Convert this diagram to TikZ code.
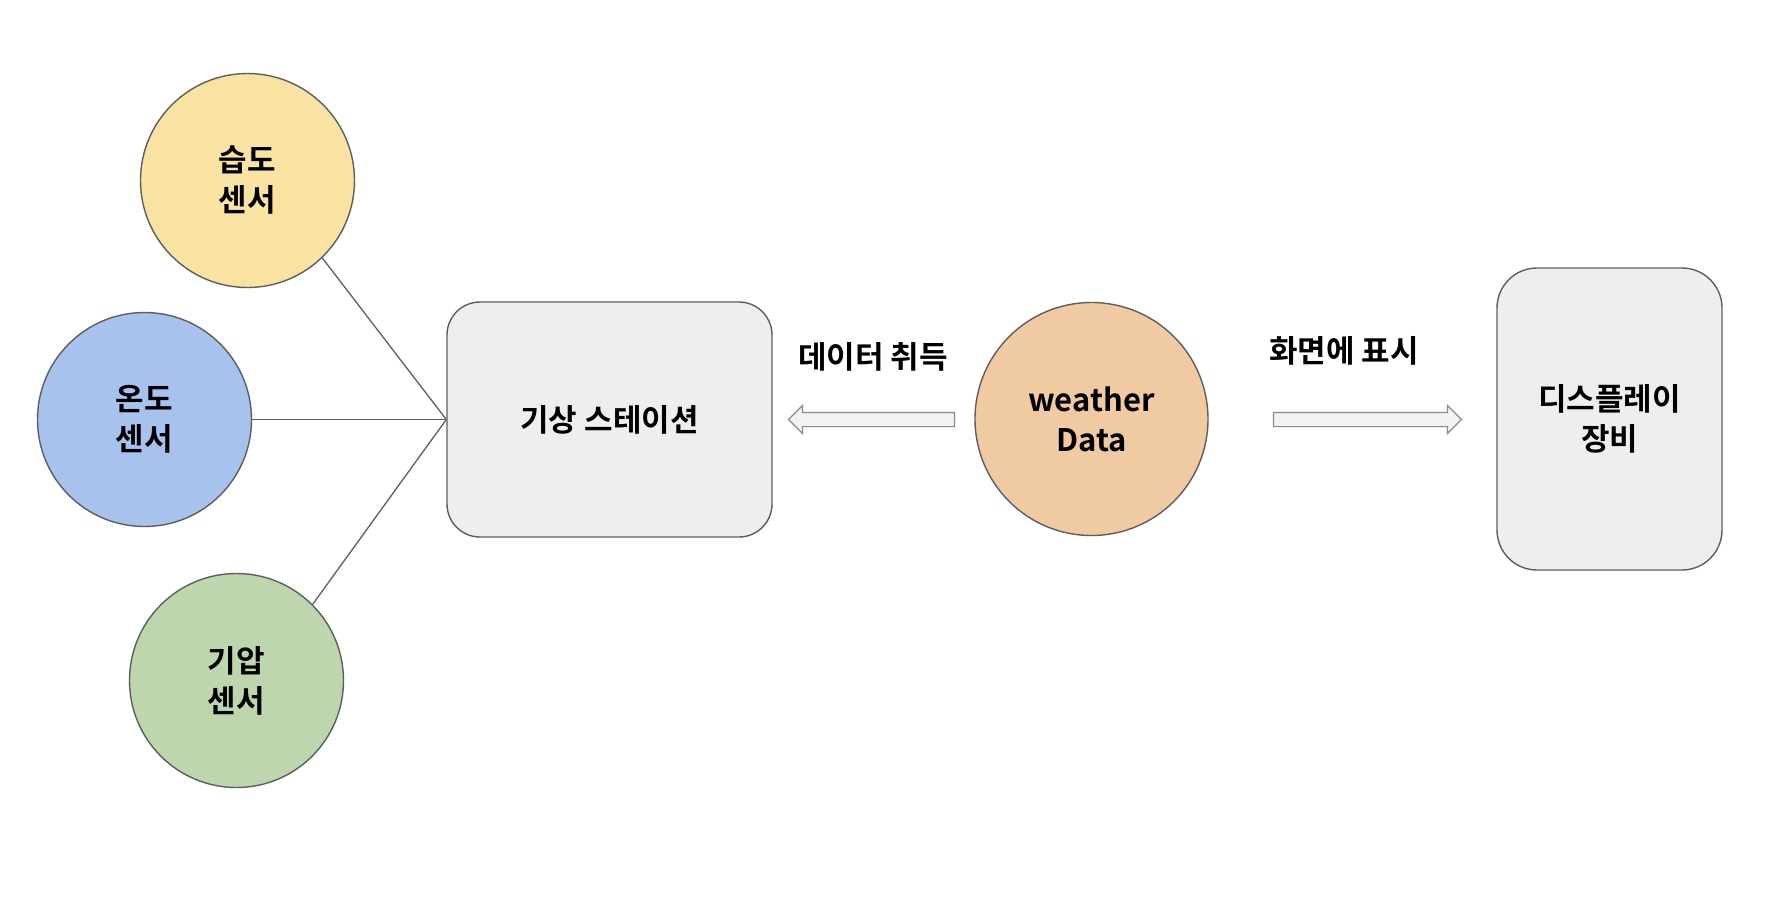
\documentclass[tikz,border=0pt]{standalone}
\usepackage{fontspec}
\setmainfont{Noto Sans CJK KR}[BoldFont={Noto Sans CJK KR Bold}]
\usetikzlibrary{shapes.arrows}
\definecolor{linegray}{HTML}{5E5E5E}
\definecolor{boxgray}{HTML}{EEEEEE}
\definecolor{arrowgray}{HTML}{8A8A8A}
\definecolor{arrowfill}{HTML}{F2F2F2}
\definecolor{cyellow}{HTML}{F8E3A3}
\definecolor{cblue}{HTML}{A8C2EE}
\definecolor{cgreen}{HTML}{BDD6AD}
\definecolor{corange}{HTML}{F0CBA1}
\begin{document}
\begin{tikzpicture}[x=1pt,y=-1pt,
  txt/.style={font=\bfseries\fontsize{31}{40}\selectfont, align=center, text=black},
  sensor/.style={circle, draw=linegray, line width=1.4pt, minimum size=214pt, inner sep=0pt, txt},
  boxnode/.style={rectangle, draw=linegray, fill=boxgray, line width=1.4pt, inner sep=0pt, txt},
  bigarrow/.style={single arrow, draw=arrowgray, fill=arrowfill, line width=1.2pt, inner sep=6.5pt,
    single arrow head extend=7pt, anchor=center},
  wire/.style={draw=linegray, line width=1.3pt}]
\useasboundingbox (0,0) rectangle (1766,898);
\fill[white] (0,0) rectangle (1766,898);
% nodes
\node[boxnode, rounded corners=33pt, minimum width=325pt, minimum height=235pt] (station) at (609.5,419.5) {기상 스테이션};
\node[sensor, fill=cyellow] (hum) at (247.5,180.5) {습도\\센서};
\node[sensor, fill=cblue] (temp) at (144.5,419.5) {온도\\센서};
\node[sensor, fill=cgreen] (pres) at (236.5,680.5) {기압\\센서};
\node[circle, draw=linegray, fill=corange, line width=1.4pt, minimum size=233pt, inner sep=0pt, txt] (wd) at (1091.5,419) {weather\\Data};
\node[boxnode, rounded corners=40pt, minimum width=225pt, minimum height=302pt] (disp) at (1609.5,419) {디스플레이\\장비};
% connectors
\draw[wire] (hum.-46) -- (station.west);
\draw[wire] (temp.east) -- (station.west);
\draw[wire] (pres.45) -- (station.west);
% block arrows
\node[bigarrow, shape border rotate=180, minimum height=166pt] (getarrow) at (875,419.5) {};
\node[bigarrow, minimum height=188pt] (showarrow) at (1364,419.5) {};
% labels
\node[txt] (getlbl) at (873,357) {데이터 취득};
\node[txt] (showlbl) at (1344,351) {화면에 표시};
\end{tikzpicture}
\end{document}
